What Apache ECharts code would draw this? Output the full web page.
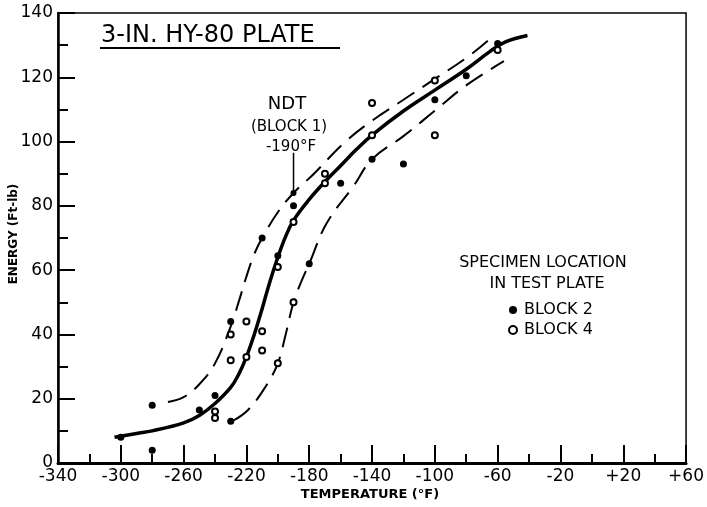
<!DOCTYPE html>
<html>
<head>
<meta charset="utf-8">
<title>3-IN. HY-80 PLATE</title>
<script src="https://cdn.jsdelivr.net/npm/echarts@6/dist/echarts.min.js"></script>
<style>
  html, body { margin: 0; padding: 0; background: #fff; }
  #main { width: 707px; height: 507px; }
</style>
</head>
<body>
<div id="main"></div>
<script>
// values: [temperature F, energy ft-lb]
var block2 = [[-300, 8], [-280, 18], [-280, 4], [-250, 16.5], [-240, 21], [-230, 44], [-230, 13],
  [-210, 70], [-200, 64.5], [-190, 80], [-180, 62], [-160, 87], [-140, 94.5], [-120, 93],
  [-100, 113], [-80, 120.5], [-60, 130.5]];
var block4 = [[-240, 16], [-240, 14], [-230, 40], [-230, 32], [-220, 44], [-220, 33], [-210, 41],
  [-210, 35], [-200, 61], [-200, 31], [-190, 75], [-190, 50], [-170, 90], [-170, 87],
  [-140, 112], [-140, 102], [-100, 119], [-100, 102], [-60, 128.5]];
var ndtPoint = [[-190, 84]];
var ndtLeader = [[-190, 96.5], [-190, 84.5]];
// hand drawn curves (mean line and scatter band)
var meanCurve = [[-304, 8], [-290, 9.2], [-280, 10], [-260, 12.5], [-250, 14.8], [-240, 18.5],
  [-230, 23.5], [-225, 27.5], [-220, 33], [-215, 40], [-210, 48], [-205, 56.5], [-200, 64],
  [-195, 70.5], [-190, 75.5], [-180, 82], [-170, 87.5], [-160, 92.5], [-150, 97.5], [-140, 102],
  [-120, 109.5], [-100, 116], [-80, 122.5], [-65, 128], [-55, 131], [-41, 133]];
var upperBand = [[-270, 19], [-260, 20.5], [-250, 24.5], [-240, 31], [-230, 42.5], [-225, 50],
  [-220, 58], [-215, 65], [-210, 70], [-200, 78], [-190, 84], [-177, 90], [-158, 99.5],
  [-140, 106.5], [-120, 113], [-100, 119.5], [-80, 126], [-66, 131.5]];
var lowerBand = [[-228, 13.3], [-219, 16.5], [-208, 23.6], [-200, 31], [-195, 40], [-190, 50],
  [-185, 56.5], [-180, 62], [-169, 74.5], [-152, 86], [-140, 94.5], [-120, 101.7],
  [-100, 109.6], [-80, 117.5], [-56, 125]];
var xTicks = { min: -340, max: 60, step: 40 };
var yTicks = { min: 0, max: 140, step: 20 };

var font = 'DejaVu Sans';
var myChart = echarts.init(document.getElementById('main'), null, { renderer: 'canvas' });

var option = {
  backgroundColor: '#fff',
  animation: false,
  grid: {
    left: 58, right: 13, top: 13, bottom: 44,
    show: true, borderColor: '#000', borderWidth: 1.5
  },
  legend: {
    orient: 'vertical',
    left: 503, top: 297,
    itemWidth: 8, itemHeight: 8, itemGap: 4,
    data: ['BLOCK 2', 'BLOCK 4'],
    textStyle: { fontFamily: font, fontSize: 16, color: '#000', lineHeight: 16, padding: [0, 0, 0, 2] }
  },
  xAxis: {
    type: 'value',
    min: xTicks.min, max: xTicks.max, interval: xTicks.step,
    axisLine: { show: true, onZero: false, lineStyle: { color: '#000', width: 3 } },
    axisTick: { show: true, inside: true, length: 18, lineStyle: { color: '#000', width: 2 } },
    minorTick: { show: true, splitNumber: 2, length: 9, lineStyle: { color: '#000', width: 2 } },
    splitLine: { show: false },
    axisLabel: {
      margin: 5, color: '#000', fontFamily: font, fontSize: 17,
      formatter: function (v) { return v > 0 ? '+' + v : String(v); }
    }
  },
  yAxis: {
    type: 'value',
    min: yTicks.min, max: yTicks.max, interval: yTicks.step,
    axisLine: { show: true, onZero: false, lineStyle: { color: '#000', width: 2.5 } },
    axisTick: { show: true, inside: true, length: 17, lineStyle: { color: '#000', width: 2 } },
    minorTick: { show: true, splitNumber: 2, length: 10, lineStyle: { color: '#000', width: 2 } },
    splitLine: { show: false },
    axisLabel: { margin: 5, color: '#000', fontFamily: font, fontSize: 17 }
  },
  graphic: [
    { type: 'text', x: 101, y: 36, style: { text: '3-IN. HY-80 PLATE', font: '24px ' + font, fill: '#000', verticalAlign: 'middle' } },
    { type: 'line', shape: { x1: 100, y1: 48, x2: 340, y2: 48 }, style: { stroke: '#000', lineWidth: 2 } },
    { type: 'text', x: 287, y: 104, style: { text: 'NDT', font: '18px ' + font, fill: '#000', align: 'center', verticalAlign: 'middle' } },
    { type: 'text', x: 289, y: 127, style: { text: '(BLOCK 1)', font: '15px ' + font, fill: '#000', align: 'center', verticalAlign: 'middle' } },
    { type: 'text', x: 291, y: 147, style: { text: '-190°F', font: '15px ' + font, fill: '#000', align: 'center', verticalAlign: 'middle' } },
    { type: 'text', x: 543, y: 263, style: { text: 'SPECIMEN LOCATION', font: '16px ' + font, fill: '#000', align: 'center', verticalAlign: 'middle' } },
    { type: 'text', x: 547, y: 284, style: { text: 'IN TEST PLATE', font: '16px ' + font, fill: '#000', align: 'center', verticalAlign: 'middle' } },
    { type: 'text', x: 14, y: 234, rotation: Math.PI / 2, style: { text: 'ENERGY (Ft-lb)', font: 'bold 12px ' + font, fill: '#000', align: 'center', verticalAlign: 'middle' } },
    { type: 'text', x: 370, y: 495, style: { text: 'TEMPERATURE (°F)', font: 'bold 13px ' + font, fill: '#000', align: 'center', verticalAlign: 'middle' } }
  ],
  series: [
    {
      name: 'mean', type: 'line', data: meanCurve, smooth: 0.4, showSymbol: false,
      lineStyle: { color: '#000', width: 3.5 }, z: 2
    },
    {
      name: 'upper', type: 'line', data: upperBand, smooth: 0.4, showSymbol: false,
      lineStyle: { color: '#000', width: 2, type: [20, 10] }, z: 2
    },
    {
      name: 'lower', type: 'line', data: lowerBand, smooth: 0.4, showSymbol: false,
      lineStyle: { color: '#000', width: 2, type: [20, 10] }, z: 2
    },
    {
      name: 'leader', type: 'line', data: ndtLeader, showSymbol: false,
      lineStyle: { color: '#000', width: 1.5 }, z: 2
    },
    {
      name: 'NDT', type: 'scatter', data: ndtPoint, symbol: 'circle', symbolSize: 6,
      itemStyle: { color: '#000', opacity: 1 }, z: 3
    },
    {
      name: 'BLOCK 2', type: 'scatter', data: block2, symbol: 'circle', symbolSize: 7,
      itemStyle: { color: '#000', opacity: 1 }, z: 3
    },
    {
      name: 'BLOCK 4', type: 'scatter', data: block4, symbol: 'emptyCircle', symbolSize: 6,
      itemStyle: { color: '#000', borderColor: '#000', borderWidth: 1.5, opacity: 1 }, z: 3
    }
  ]
};
myChart.setOption(option);
</script>
</body>
</html>
